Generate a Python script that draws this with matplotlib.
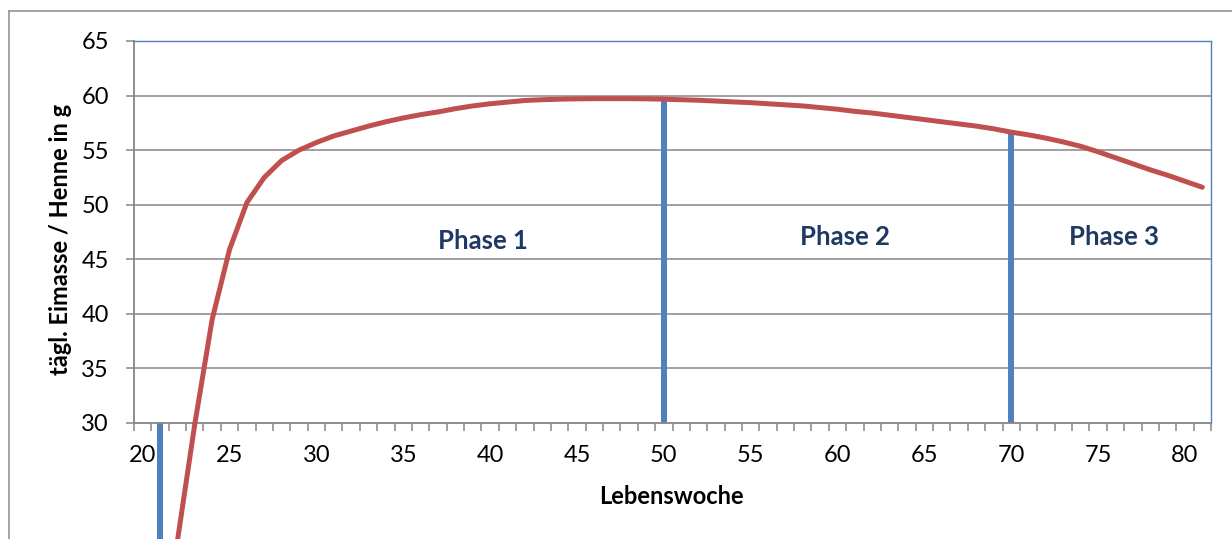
import matplotlib
matplotlib.use("Agg")
import matplotlib.pyplot as plt
from matplotlib.lines import Line2D
from matplotlib.ticker import FixedLocator

plt.rcParams['font.family'] = ['Lato', 'DejaVu Sans']

# Laying week and daily egg mass per hen (g)
weeks = list(range(22, 82))
egg_mass = [19.2, 29.9, 39.5, 45.9, 50.2, 52.5, 54.05, 55.0, 55.7, 56.3,
            56.75, 57.2, 57.6, 57.95, 58.25, 58.5, 58.8, 59.05, 59.25, 59.4,
            59.55, 59.62, 59.67, 59.7, 59.72, 59.72, 59.72, 59.7, 59.67, 59.62,
            59.57, 59.5, 59.42, 59.35, 59.25, 59.15, 59.05, 58.9, 58.75, 58.55,
            58.4, 58.2, 58.0, 57.8, 57.6, 57.4, 57.2, 56.95, 56.65, 56.4,
            56.1, 55.75, 55.35, 54.85, 54.3, 53.75, 53.2, 52.7, 52.15, 51.6]

start_week = 21
phase_bounds = [50, 70]
phase_labels = ["Phase 1", "Phase 2", "Phase 3"]
phase_label_pos = [(39.6, 46.7), (60.4, 47.0), (75.9, 47.0)]

x_tick_labels = list(range(20, 81, 5))
y_ticks = list(range(30, 66, 5))

RED = "#C0504D"
BLUE = "#4F81BD"
GRAY = "#868686"
NAVY = "#1F3864"

W, H = 1232, 539
fig = plt.figure(figsize=(W / 100, H / 100), dpi=100)
ax = fig.add_axes([134 / W, 1 - 423 / H, (1211 - 134) / W, (423 - 41) / H])

ax.set_xlim(19.5, 81.5)
ax.set_ylim(30, 65)

# horizontal gridlines
for y in y_ticks[1:-1]:
    ax.axhline(y, color=GRAY, lw=1.1, zorder=1)

# phase boundary markers
ax.plot([start_week, start_week], [30, 10], color=BLUE, lw=4.3,
        solid_capstyle='butt', clip_on=False, zorder=2)
for wb in phase_bounds:
    v = egg_mass[weeks.index(wb)]
    ax.plot([wb, wb], [30, v], color=BLUE, lw=4.3, solid_capstyle='butt',
            clip_on=False, zorder=2)

# egg mass curve
ax.plot(weeks, egg_mass, color=RED, lw=3.6, solid_capstyle='round',
        solid_joinstyle='round', clip_on=False, zorder=3)

for lab, (px, py) in zip(phase_labels, phase_label_pos):
    ax.text(px, py, lab, ha='center', va='center', fontsize=18.5,
            fontweight='bold', color=NAVY)

# axes styling
for s in ['left', 'bottom']:
    ax.spines[s].set_color(GRAY)
    ax.spines[s].set_linewidth(1.3)
for s in ['top', 'right']:
    ax.spines[s].set_color(BLUE)
    ax.spines[s].set_linewidth(1.0)

ax.set_yticks(y_ticks)
ax.tick_params(axis='y', direction='out', length=6, width=1.1, color=GRAY,
               pad=12, labelsize=17)
ax.set_xticks(x_tick_labels)
ax.tick_params(axis='x', which='major', length=0, pad=16, labelsize=17)
ax.xaxis.set_minor_locator(FixedLocator([19.5 + k for k in range(63)]))
ax.tick_params(axis='x', which='minor', direction='out', length=6, width=1.1,
               color=GRAY)

# axis titles
fig.text(671 / W, 1 - 497 / H, "Lebenswoche", ha='center', va='center',
         fontsize=17, fontweight='bold')
fig.text(61 / W, 1 - 239 / H, "tägl. Eimasse / Henne in g", ha='center',
         va='center', rotation=90, fontsize=17, fontweight='bold')

# outer chart frame
fig.add_artist(Line2D([9 / W, 1], [1 - 11 / H, 1 - 11 / H],
                      transform=fig.transFigure, color="#8C8C8C", lw=1.1))
fig.add_artist(Line2D([9 / W, 9 / W], [0, 1 - 11 / H],
                      transform=fig.transFigure, color="#8C8C8C", lw=1.1))

fig.savefig("out.png", dpi=100)
